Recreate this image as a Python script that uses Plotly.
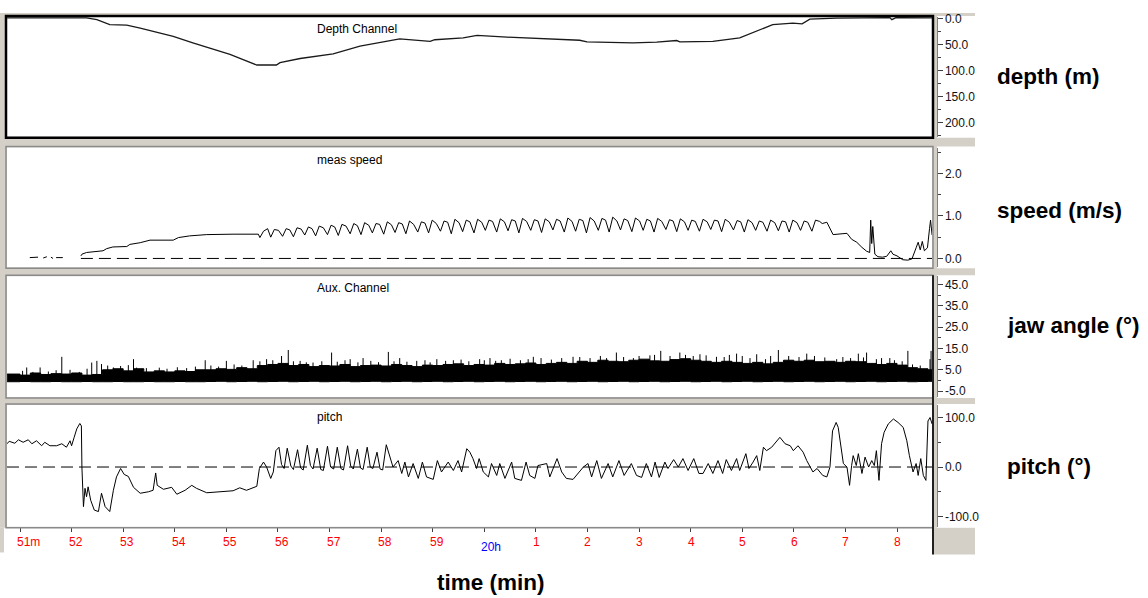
import plotly.graph_objects as go

W, H = 1148, 598
FONT = "Liberation Sans, Arial, sans-serif"
GRAY = "#d4d0c8"

# ---------------- data ----------------
tick_minutes = [51, 52, 53, 54, 55, 56, 57, 58, 59, 60, 61, 62, 63, 64, 65, 66, 67, 68]
tick_labels = ["51m", "52", "53", "54", "55", "56", "57", "58", "59", "20h",
               "1", "2", "3", "4", "5", "6", "7", "8"]
hour_labels = ["20h"]

depth_ticks = [0, 50, 100, 150, 200]
speed_ticks = [0, 1, 2]
aux_ticks = [-5, 5, 15, 25, 35, 45]
pitch_ticks = [-100, 0, 100]

depth_time = [50.75, 52.29, 52.49, 52.74, 53.07, 53.33, 53.97, 54.35, 55.07, 55.46, 55.59,
              55.97, 56.04, 56.43, 57.07, 57.59, 58.17, 58.36, 58.95, 59.04, 59.59, 59.86,
              60.44, 61.14, 61.85, 61.99, 62.88, 63.34, 63.73, 63.79, 64.43, 64.95, 65.28,
              65.59, 65.98, 66.16, 66.31, 66.83, 67.86, 67.90, 67.98, 68.68]
depth_m = [-1, -1, 2.5, 12, 13, 18.5, 34.5, 47, 69, 85, 89.5,
           89.5, 85, 77, 68, 53, 43, 39.5, 44, 41, 37.5, 32.5,
           36, 39.5, 42, 45, 47, 45.5, 42.5, 45, 44, 37.5, 25,
           12, 9, 10.5, 1.5, -0.5, -1.5, 2.5, -1.5, -1]

speed_time = [51.19, 51.35, None, 51.45, 51.52, None, 51.60, 51.64, None, 51.70, 51.83, None,
              52.18, 52.20, 52.29, 52.61, 52.68, 52.80, 53.07, 53.13, 53.33, 53.52, 53.97,
              54.07, 54.29, 54.62, 55.13, 55.62,
              55.65, 55.72, 55.80, 55.86, 55.93, 56.01, 56.09, 56.16, 56.23, 56.30, 56.37, 56.45,
              56.52, 56.59, 56.66, 56.73, 56.80, 56.88, 56.96, 57.03, 57.10, 57.17, 57.24, 57.32,
              57.40, 57.47, 57.54, 57.61, 57.68, 57.76, 57.83, 57.90, 57.97, 58.05, 58.12, 58.20,
              58.27, 58.34, 58.41, 58.48, 58.55, 58.63, 58.71, 58.78, 58.85, 58.92, 58.99, 59.07,
              59.15, 59.22, 59.29, 59.36, 59.43, 59.51, 59.58, 59.65, 59.72, 59.80, 59.87, 59.95,
              60.02, 60.09, 60.16, 60.24, 60.31, 60.39, 60.46, 60.53, 60.60, 60.67, 60.74, 60.82,
              60.90, 60.97, 61.04, 61.11, 61.18, 61.26, 61.33, 61.40, 61.47, 61.55, 61.62, 61.70,
              61.77, 61.84, 61.91, 61.98, 62.05, 62.13, 62.21, 62.28, 62.35, 62.42, 62.49, 62.57,
              62.64, 62.71, 62.78, 62.86, 62.93, 63.01, 63.08, 63.15, 63.22, 63.29, 63.36, 63.44,
              63.52, 63.59, 63.66, 63.73, 63.80, 63.88, 63.95, 64.02, 64.09, 64.17, 64.24, 64.32,
              64.39, 64.46, 64.53, 64.60, 64.67, 64.75, 64.83, 64.90, 64.97, 65.04, 65.11, 65.19,
              65.26, 65.33, 65.40, 65.48, 65.55, 65.63, 65.70, 65.77, 65.84, 65.91, 65.98, 66.06,
              66.13, 66.20, 66.27, 66.35, 66.42, 66.50, 66.55,
              66.64, 66.76, 66.89, 67.03, 67.12, 67.22, 67.32, 67.41, 67.47, 67.49, 67.51, 67.53,
              67.57, 67.63, 67.72, 67.80, 67.88, 67.92, 68.00, 68.11, 68.21, 68.29, 68.37, 68.41,
              68.45, 68.49, 68.53, 68.59, 68.63, 68.65, 68.68]
speed_ms = [0.02, 0.03, None, 0.01, 0.04, None, 0.03, 0.0, None, 0.02, 0.02, None,
            0.06, 0.10, 0.14, 0.18, 0.23, 0.27, 0.28, 0.33, 0.37, 0.43, 0.43,
            0.49, 0.53, 0.56, 0.57, 0.57,
            0.49, 0.64, 0.70, 0.50, 0.68, 0.66, 0.52, 0.70, 0.67, 0.51, 0.72, 0.69,
            0.55, 0.74, 0.70, 0.53, 0.76, 0.72, 0.56, 0.78, 0.74, 0.54, 0.80, 0.76,
            0.58, 0.82, 0.77, 0.56, 0.84, 0.78, 0.60, 0.82, 0.80, 0.57, 0.86, 0.79,
            0.61, 0.84, 0.81, 0.58, 0.88, 0.80, 0.62, 0.86, 0.83, 0.60, 0.90, 0.82,
            0.64, 0.88, 0.85, 0.58, 0.92, 0.84, 0.63, 0.90, 0.86, 0.60, 0.92, 0.85,
            0.66, 0.90, 0.87, 0.62, 0.93, 0.86, 0.65, 0.91, 0.88, 0.60, 0.94, 0.87,
            0.66, 0.91, 0.88, 0.61, 0.93, 0.86, 0.67, 0.92, 0.88, 0.62, 0.95, 0.87,
            0.64, 0.92, 0.89, 0.60, 0.96, 0.88, 0.66, 0.94, 0.90, 0.62, 0.97, 0.88,
            0.67, 0.93, 0.89, 0.63, 0.95, 0.88, 0.66, 0.92, 0.88, 0.62, 0.94, 0.87,
            0.68, 0.91, 0.88, 0.63, 0.93, 0.86, 0.66, 0.90, 0.87, 0.64, 0.92, 0.86,
            0.68, 0.90, 0.88, 0.63, 0.92, 0.85, 0.67, 0.89, 0.86, 0.62, 0.91, 0.84,
            0.66, 0.88, 0.85, 0.64, 0.90, 0.84, 0.65, 0.88, 0.86, 0.62, 0.90, 0.84,
            0.66, 0.88, 0.85, 0.64, 0.90, 0.87, 0.82,
            0.85, 0.56, 0.57, 0.59, 0.45, 0.38, 0.26, 0.17, 0.14, 0.90, 0.35, 0.75,
            0.10, 0.04, 0.03, 0.05, 0.18, 0.10, 0.06, -0.03, -0.04, -0.01, 0.25, 0.38,
            0.20, 0.40, 0.18, 0.25, 0.70, 0.90, 0.55]

aux_time = [50.75, 51.0, 51.2, 51.4, 51.6, 51.8, 52.0, 52.2, 52.4, 52.6, 52.8, 53.0, 53.2,
            53.4, 53.6, 53.8, 54.0, 54.2, 54.4, 54.6, 54.8, 55.0, 55.2, 55.4, 55.6, 55.8,
            56.0, 56.2, 56.4, 56.6, 56.8, 57.0, 57.2, 57.4, 57.6, 57.8, 58.0, 58.2, 58.4,
            58.6, 58.8, 59.0, 59.2, 59.4, 59.6, 59.8, 60.0, 60.2, 60.4, 60.6, 60.8, 61.0,
            61.2, 61.4, 61.6, 61.8, 62.0, 62.2, 62.4, 62.6, 62.8, 63.0, 63.2, 63.4, 63.6,
            63.8, 64.0, 64.2, 64.4, 64.6, 64.8, 65.0, 65.2, 65.4, 65.6, 65.8, 66.0, 66.2,
            66.4, 66.6, 66.8, 67.0, 67.2, 67.4, 67.6, 67.8, 68.0, 68.2, 68.4, 68.6, 68.7]
aux_upper = [3.0, 2.5, 3.5, 2.8, 3.2, 3.0,
             3.5, 2.5, 2.8,
             5.0, 5.5, 4.5, 5.5,
             4.0, 4.5, 4.0, 4.5, 4.2, 5.0,
             5.0, 5.5, 5.2, 6.0, 5.5,
             7.0, 7.5, 8.0, 7.0, 7.5,
             6.5, 7.0, 6.8, 7.5, 6.5, 7.0, 7.2, 6.8, 7.5, 7.0, 6.5, 7.2, 7.0, 7.5, 7.8, 7.0,
             7.5, 7.2, 8.0, 7.5, 7.8, 8.2, 7.5, 8.0, 8.5, 8.0,
             9.0, 8.5, 9.5, 9.0, 8.8, 9.5, 10.0, 9.2, 9.0, 9.8, 10.2, 9.5, 9.0, 8.5, 9.0,
             8.5, 8.0, 8.5, 7.8,
             8.5, 9.5, 9.0, 9.5, 8.8, 9.0, 8.5, 9.0, 8.8,
             8.0, 7.5, 8.0, 7.2,
             6.0, 5.5, 5.0,
             5.0]
aux_lower = [-0.6, -0.5, -0.6, -0.6, -0.5, -0.6, -0.6, -0.5, -0.6, -0.6,
             -0.5, -0.6, -0.6, -0.5, -0.6, -0.6, -0.5, -0.6, -0.6, -0.5,
             -0.4, -0.6, -0.5, -0.4, -0.6, -0.5, -0.4, -0.6, -0.5, -0.4,
             -0.6, -0.5, -0.4, -0.6, -0.5, -0.4, -0.6, -0.5, -0.4, -0.6,
             -0.5, -0.4, -0.6, -0.5, -0.4, -0.6, -0.5, -0.4, -0.6, -0.5,
             -0.4, -0.6, -0.5, -0.4, -0.6, -0.5, -0.4, -0.6, -0.5, -0.4,
             -0.6, -0.5, -0.4, -0.6, -0.5, -0.4, -0.6, -0.5, -0.4, -0.6,
             -0.5, -0.4, -0.6, -0.5, -0.4, -0.6, -0.5, -0.4, -0.6, -0.5,
             -0.4, -0.6, -0.5, -0.4, -0.6, -0.5, -0.4, -0.6, -0.5, -0.4,
             -0.5]
aux_spike_time = [51.13, 51.39, 51.81, 51.97, 52.39, 52.49, 52.58, 52.81, 53.20, 53.26,
                  54.23, 54.59, 55.00, 55.52, 55.78, 56.07, 56.20, 56.43, 56.68, 57.04,
                  57.40, 57.65, 58.14, 58.36, 58.69, 59.08, 59.40, 59.91, 60.11, 60.33,
                  60.95, 61.72, 62.37, 62.56, 62.89, 63.21, 63.42, 63.79, 64.18, 64.50,
                  64.89, 65.28, 65.70, 66.25, 66.83, 67.25, 67.41, 67.86, 68.21, 68.64, 68.66]
aux_spike_deg = [6.1, 6.1, 11.1, 5.0, 8.4, 9.2, 7.7, 6.1, 10.0, 6.0,
                 5.8, 9.5, 9.2, 9.5, 10.0, 11.5, 14.3, 9.2, 8.4, 13.1,
                 10.0, 10.5, 13.4, 10.5, 9.2, 10.0, 9.5, 10.0, 10.5, 9.5,
                 11.1, 11.1, 10.5, 13.1, 10.5, 11.8, 13.9, 13.1, 12.3, 11.1,
                 12.6, 12.3, 14.3, 12.6, 10.0, 12.6, 13.1, 10.5, 13.9, 10.0, 13.9]
aux_hair_time = [51.05, 51.25, 51.55, 51.70, 52.15, 52.30, 52.70, 52.95, 53.10, 53.45,
                 53.70, 53.85, 54.05, 54.40, 54.70, 54.85, 55.15, 55.30, 55.65, 55.90,
                 56.30, 56.55, 56.85, 57.15, 57.30, 57.55, 57.80, 57.95, 58.25, 58.50,
                 58.85, 58.95, 59.25, 59.55, 59.70, 60.00, 60.22, 60.50, 60.70, 60.85,
                 61.10, 61.30, 61.50, 61.85, 62.05, 62.25, 62.70, 63.00, 63.30, 63.60,
                 63.90, 64.05, 64.30, 64.65, 64.75, 65.00, 65.15, 65.45, 65.55, 65.90,
                 66.10, 66.40, 66.60, 66.95, 67.10, 67.35, 67.60, 67.70, 67.95, 68.10,
                 68.30, 68.45]
aux_hair_deg = [4.5, 4.0, 4.2, 4.8, 4.0, 5.5, 7.0, 6.8, 7.2, 5.8,
                6.0, 5.5, 6.2, 6.5, 7.0, 6.5, 7.5, 7.0, 9.0, 9.5,
                9.0, 8.5, 9.0, 8.8, 9.5, 8.5, 9.2, 8.6, 9.0, 8.8,
                9.5, 8.5, 9.2, 9.8, 9.0, 9.5, 9.2, 10.2, 9.5, 10.0,
                10.5, 9.8, 10.5, 11.0, 10.5, 11.5, 11.0, 11.5, 12.0, 11.5,
                12.0, 11.5, 11.8, 11.0, 12.0, 11.5, 10.5, 10.0, 11.5, 11.5,
                11.0, 11.5, 10.8, 11.0, 10.5, 10.8, 10.0, 10.5, 9.5, 9.0,
                7.5, 7.0]

pitch_time = [50.75, 50.79, 50.90, 50.97, 51.06, 51.16, 51.23, 51.32, 51.42, 51.48, 51.58,
              51.71, 51.81, 51.90, 51.97, 52.00, 52.05, 52.10, 52.16, 52.19, 52.20, 52.23,
              52.26, 52.29, 52.32, 52.37, 52.44, 52.52, 52.58, 52.65, 52.74, 52.81, 52.87,
              52.95, 53.02, 53.10, 53.20, 53.33, 53.49, 53.58, 53.63, 53.66, 53.78, 53.94,
              54.04, 54.20, 54.33, 54.42, 54.62, 54.88, 55.13, 55.26, 55.39, 55.59, 55.64,
              55.72, 55.78, 55.86, 55.91, 55.96,
              56.02, 56.07, 56.12, 56.18, 56.25, 56.30, 56.38, 56.44, 56.49, 56.57, 56.63,
              56.68, 56.76, 56.83, 56.88, 56.96, 57.02, 57.08, 57.15, 57.22, 57.27, 57.35,
              57.41, 57.46, 57.54, 57.60, 57.65, 57.73, 57.79, 57.84, 57.92, 57.98, 58.03,
              58.10, 58.14, 58.20,
              58.23, 58.33, 58.40, 58.46, 58.53, 58.62, 58.72, 58.80, 58.88, 59.01, 59.09,
              59.17, 59.30, 59.40, 59.49, 59.56, 59.66, 59.72,
              59.78, 59.85, 59.90, 59.98, 60.08, 60.14, 60.24, 60.30, 60.40, 60.53, 60.59,
              60.72, 60.81, 60.88, 60.98, 61.04, 61.21, 61.27, 61.41, 61.50, 61.59, 61.72,
              61.92, 62.01, 62.08, 62.18, 62.27, 62.40, 62.49, 62.61, 62.71, 62.85, 62.95,
              63.05, 63.14, 63.24, 63.31, 63.39, 63.50, 63.56, 63.67, 63.76, 63.85, 63.95,
              64.06, 64.16, 64.24, 64.34, 64.43, 64.53, 64.62, 64.69, 64.79, 64.89, 64.95,
              65.07, 65.13, 65.21, 65.28, 65.34, 65.41, 65.47, 65.57, 65.73, 65.83, 65.93,
              65.99, 66.08, 66.18, 66.25, 66.37, 66.45, 66.56, 66.64, 66.70, 66.75, 66.82,
              66.86, 66.91, 66.96, 67.03, 67.08, 67.12, 67.15, 67.21, 67.25, 67.32, 67.38,
              67.45, 67.51, 67.56, 67.60, 67.65, 67.70, 67.75, 67.83, 67.93, 68.02, 68.12,
              68.19, 68.24, 68.31, 68.37, 68.41, 68.46, 68.51, 68.56, 68.60, 68.64, 68.68]
pitch_deg = [47, 52, 48, 55, 50, 55, 47, 53, 43, 50, 43,
             43, 47, 40, 53, 43, 60, 77, 88, 83, 0, -80,
             -43, -60, -40, -67, -87, -90, -53, -80, -90, -47, -20,
             -3, -15, -19, -41, -53, -50, -47, -12, -37, -45, -41,
             -55, -47, -37, -43, -52, -50, -48, -42, -47, -39, -3,
             10, 0, -23, -10, 33,
             40, 5, -3, 38, 2, -5, 35, -2, -6, 44, 3,
             -4, 38, -5, -7, 42, 0, -4, 40, -3, -6, 43,
             2, -4, 36, -2, -5, 40, 0, -3, 30, -4, -6,
             45, 30, 8,
             0, 13, -13, 10, -20, 7, -23, 10, -20, -25, 13,
             -10, 10, -7, 13, -10, 37, 30,
             17, -3, 17, -10, -20, 7, -17, 7, -23, 10, -23,
             -27, 10, -17, -23, 3, 7, -20, 17, -10, -23, -25,
             0, 7, -20, 13, -23, 7, -20, 13, -17, 7, -17,
             -21, 7, -20, 10, -21, 10, -3, 15, 0, 17, -7,
             17, -13, -13, 7, -13, 13, -13, 15, -7, 17, -7,
             27, -3, 10, 23, -7, 40, 33, 40, 60, 47, 43,
             33, 43, 30, 13, -10, -3, -17, -20, 0, 73, 90,
             80, 40, 7, 0, -37, 3, 23, 3, 27, -13, 20,
             0, 13, 3, 33, -27, 47, 70, 87, 97, 90, 80,
             53, 23, -10, 7, -17, 17, -17, -27, 93, 100, 87]

# ---------------- geometry helpers (pixels -> paper) ----------------
def fx(p):
    return p / W


def fy(p):
    return 1 - p / H


PLOT_L, PLOT_R = 7, 932
AXIS_X = 936.5
panels = {  # top, bottom in px
    "depth": (12, 133),
    "speed": (144, 265),
    "aux": (274, 396),
    "pitch": (404, 527),
}
x_range = [50.748, 68.678]

fig = go.Figure()
line_style = dict(color="#000000", width=1)

fig.add_trace(go.Scatter(x=depth_time, y=depth_m, xaxis="x", yaxis="y4", mode="lines",
                         line=dict(color="#1a1a1a", width=1.3)))
fig.add_trace(go.Scatter(x=speed_time, y=speed_ms, xaxis="x", yaxis="y3", mode="lines",
                         connectgaps=False, line=line_style))
fig.add_trace(go.Scatter(x=aux_time, y=aux_lower, xaxis="x", yaxis="y2", mode="lines",
                         line_shape="hv", line=line_style))
fig.add_trace(go.Scatter(x=aux_time, y=aux_upper, xaxis="x", yaxis="y2", mode="lines",
                         line_shape="hv", fill="tonexty", fillcolor="#000000", line=line_style))
spx, spy = [], []
for t, v in list(zip(aux_spike_time, aux_spike_deg)) + list(zip(aux_hair_time, aux_hair_deg)):
    spx += [t, t, None]
    spy += [2, v, None]
fig.add_trace(go.Scatter(x=spx, y=spy, xaxis="x", yaxis="y2", mode="lines", line=line_style))
fig.add_trace(go.Scatter(x=pitch_time, y=pitch_deg, xaxis="x", yaxis="y", mode="lines",
                         line=line_style))


def yaxis_style(top, bottom, rng, ticks, minor_dtick):
    return dict(
        domain=[fy(bottom), fy(top)], range=rng, anchor="free", position=fx(AXIS_X), side="right",
        tickmode="array", tickvals=ticks, ticktext=["%.1f" % v for v in ticks],
        ticks="outside", ticklen=5, tickwidth=1, tickcolor="#404040",
        minor=dict(ticks="outside", ticklen=3, tickwidth=1, tickcolor="#404040",
                   tickmode="linear", tick0=ticks[0], dtick=minor_dtick),
        showline=True, linecolor="#808080", linewidth=1, showgrid=False, zeroline=False,
        tickfont=dict(family=FONT, size=12, color="#111111"), fixedrange=True,
    )


speed_start = next(t for t, v in zip(speed_time, speed_ms) if v is not None and v >= 0.05)

shapes = [
    # window frame
    dict(type="rect", xref="paper", yref="paper", x0=fx(0), x1=fx(975), y0=fy(528), y1=fy(8),
         fillcolor=GRAY, line=dict(width=0), layer="below"),
    dict(type="rect", xref="paper", yref="paper", x0=fx(933), x1=fx(975), y0=fy(555), y1=fy(528),
         fillcolor=GRAY, line=dict(width=0), layer="below"),
    dict(type="rect", xref="paper", yref="paper", x0=fx(0), x1=fx(4), y0=fy(553), y1=fy(528),
         fillcolor=GRAY, line=dict(width=0), layer="below"),
]
for name, (top, bottom) in panels.items():
    shapes.append(dict(type="rect", xref="paper", yref="paper", x0=fx(PLOT_L), x1=fx(PLOT_R),
                       y0=fy(bottom), y1=fy(top), fillcolor="white",
                       line=dict(width=0), layer="below"))
    shapes.append(dict(type="rect", xref="paper", yref="paper", x0=fx(937), x1=fx(975),
                       y0=fy(bottom + 1), y1=fy(top - 1), fillcolor="white",
                       line=dict(width=0), layer="below"))
    color, width = ("#000000", 2.5) if name == "depth" else ("#8a8a8a", 1.5)
    shapes.append(dict(type="rect", xref="paper", yref="paper", x0=fx(PLOT_L - 1), x1=fx(PLOT_R + 1),
                       y0=fy(bottom + 1), y1=fy(top - 1), line=dict(color=color, width=width),
                       fillcolor="rgba(0,0,0,0)", layer="above"))
shapes.append(dict(type="line", xref="paper", yref="paper", x0=fx(PLOT_R + 1), x1=fx(PLOT_R + 1),
                   y0=fy(555), y1=fy(273), line=dict(color="#202020", width=2), layer="above"))
shapes.append(dict(type="line", xref="x", yref="y3", x0=speed_start, x1=x_range[1], y0=0, y1=0,
                   line=dict(color="#000000", width=1, dash="12px,6px"), layer="above"))
shapes.append(dict(type="line", xref="x domain", yref="y", x0=0, x1=1, y0=0, y1=0,
                   line=dict(color="#000000", width=1, dash="12px,6px"), layer="above"))

annotations = []
titles = [("Depth Channel", 24), ("meas speed", 157), ("Aux. Channel", 286), ("pitch", 416.5)]
for txt, yc in titles:
    annotations.append(dict(text=txt, xref="paper", yref="paper", x=fx(315), y=fy(yc),
                            xanchor="left", yanchor="middle", showarrow=False,
                            font=dict(family=FONT, size=12, color="#000000")))
side_labels = [("depth (m)", 995, 72), ("speed (m/s)", 995, 208),
               ("jaw angle (°)", 1005, 324), ("pitch (°)", 1005, 466)]
for txt, xl, yc in side_labels:
    annotations.append(dict(text="<b>" + txt + "</b>", xref="paper", yref="paper", x=fx(xl), y=fy(yc),
                            xanchor="left", yanchor="middle", showarrow=False,
                            font=dict(family=FONT, size=22.5, color="#000000")))
annotations.append(dict(text="<b>time (min)</b>", xref="paper", yref="paper", x=fx(491), y=fy(583),
                        xanchor="center", yanchor="middle", showarrow=False,
                        font=dict(family=FONT, size=22.5, color="#000000")))
for tm, lab in zip(tick_minutes, tick_labels):
    is_hour = lab in hour_labels
    annotations.append(dict(text=lab, xref="x", yref="paper", x=tm, y=fy(547 if is_hour else 542),
                            xanchor="left", yanchor="middle", xshift=-5, showarrow=False,
                            font=dict(family=FONT, size=12,
                                      color="#0000ff" if is_hour else "#ff0000")))

fig.update_layout(
    width=W, height=H, margin=dict(l=0, r=0, t=0, b=0),
    paper_bgcolor="white", plot_bgcolor="rgba(0,0,0,0)", showlegend=False, hovermode=False,
    xaxis=dict(domain=[fx(PLOT_L), fx(PLOT_R)], range=x_range, anchor="y",
               tickmode="array", tickvals=tick_minutes, showticklabels=False,
               ticks="outside", ticklen=4, tickcolor="#404040", showline=True,
               linecolor="#9a9a9a", linewidth=1, showgrid=False, zeroline=False, fixedrange=True),
    yaxis=yaxis_style(*panels["pitch"], [-120.6, 125.4], pitch_ticks, 50),
    yaxis2=yaxis_style(*panels["aux"], [-7.79, 48.95], aux_ticks, 5),
    yaxis3=yaxis_style(*panels["speed"], [-0.209, 2.605], speed_ticks, 0.5),
    yaxis4=yaxis_style(*panels["depth"], [227, -2.9], depth_ticks, 25),
    shapes=shapes, annotations=annotations,
)

fig.write_html("out.html", config={"displayModeBar": False},
               post_script="document.body.style.margin='0';document.body.style.padding='0';")
